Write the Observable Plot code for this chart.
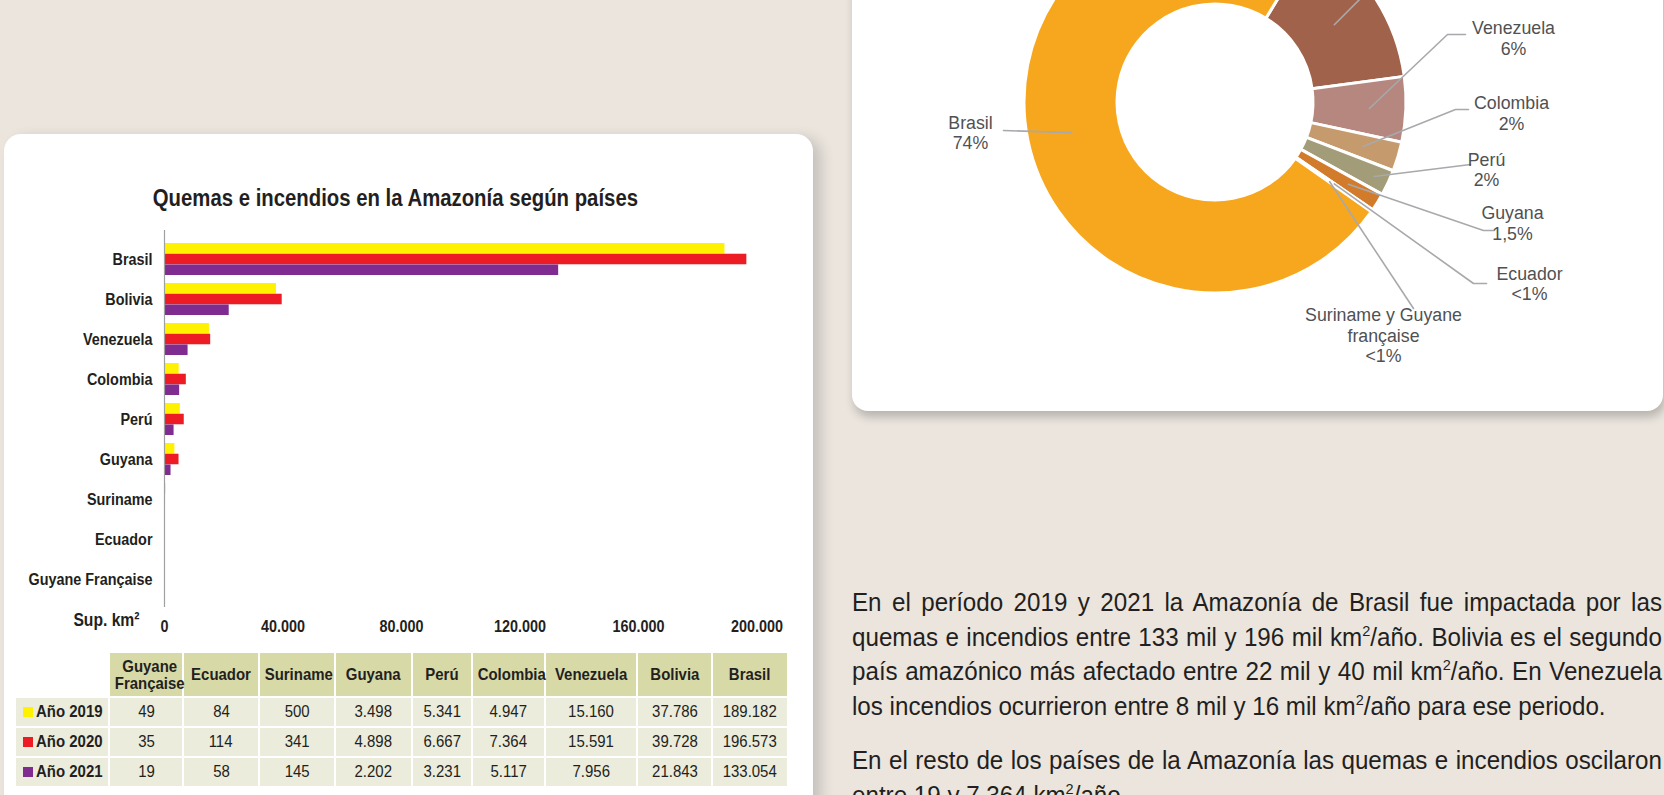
<!DOCTYPE html>
<html><head><meta charset="utf-8">
<script src="https://cdn.jsdelivr.net/npm/d3@7"></script>
<script src="https://cdn.jsdelivr.net/npm/@observablehq/plot@0.6"></script>
<style>
html,body{margin:0;padding:0;}
body{width:1664px;height:795px;overflow:hidden;background:#ebe5de;position:relative;
  font-family:"Liberation Sans",Arial,sans-serif;color:#231f20;}
.card{position:absolute;background:#fff;}
#leftCard{left:4px;top:134px;width:809px;height:720px;border-radius:17px;box-shadow:8px 4px 14px rgba(0,0,0,0.16);}
#rightCard{left:852px;top:-40px;width:811px;height:451px;border-radius:16px;box-shadow:2px 6px 10px rgba(0,0,0,0.22);}
#title{position:absolute;left:0;width:790px;top:184px;text-align:center;font-weight:bold;font-size:23px;line-height:28px;white-space:nowrap;}
#title span{display:inline-block;transform-origin:50% 50%;}
#bars{position:absolute;left:0;top:200px;}
#donut{position:absolute;left:852px;top:0;}
#tbl{position:absolute;left:14px;top:651px;border-collapse:separate;border-spacing:2px;table-layout:fixed;width:775px;font-size:17px;}
#tbl td,#tbl th{padding:0;text-align:center;vertical-align:middle;overflow:visible;white-space:nowrap;}
#tbl th{background:#d7d9a7;font-weight:bold;height:43px;line-height:17px;}
#tbl th.blank{background:transparent;}
#tbl td{background:#ebecdb;height:28px;}
#tbl td.lab{text-align:left;padding-left:7px;font-weight:bold;}
#tbl .t{display:inline-block;transform-origin:50% 50%;}
#tbl td.lab .t{transform-origin:0 50%;}
.sq{display:inline-block;width:10px;height:10px;margin-right:3px;vertical-align:0px;}
.para{position:absolute;left:852px;font-size:25px;line-height:34.5px;transform-origin:0 0;}
.para div{white-space:nowrap;}
.para div.j{text-align:justify;text-align-last:justify;}
sup{font-size:60%;line-height:0;vertical-align:0.65em;}
</style></head>
<body>
<div class="card" id="leftCard"></div>
<div class="card" id="rightCard"></div>
<div id="title"><span>Quemas e incendios en la Amazonía según países</span></div>
<div id="bars"></div>
<table id="tbl"></table>
<div id="donut"></div>
<div class="para" id="p1" style="top:585px">
  <div class="j">En el período 2019 y 2021 la Amazonía de Brasil fue impactada por las</div>
  <div class="j">quemas e incendios entre 133 mil y 196 mil km<sup>2</sup>/año. Bolivia es el segundo</div>
  <div class="j">país amazónico más afectado entre 22 mil y 40 mil km<sup>2</sup>/año. En Venezuela</div>
  <div>los incendios ocurrieron entre 8 mil y 16 mil km<sup>2</sup>/año para ese periodo.</div>
</div>
<div class="para" id="p2" style="top:743px">
  <div class="j">En el resto de los países de la Amazonía las quemas e incendios oscilaron</div>
  <div>entre 19 y 7.364 km<sup>2</sup>/año.</div>
</div>
<script>
// ---------- data ----------
const countries = ["Brasil","Bolivia","Venezuela","Colombia","Perú","Guyana","Suriname","Ecuador","Guyane Française"];
const years = ["Año 2019","Año 2020","Año 2021"];
const v2019 = [189182,37786,15160,4947,5341,3498,500,84,49];
const v2020 = [196573,39728,15591,7364,6667,4898,341,114,35];
const v2021 = [133054,21843,7956,5117,3231,2202,145,58,19];
const yearColors = ["#fff200","#ed1c24","#7f2b8f"];
const xTicks = [0,40000,80000,120000,160000,200000];
const axisLabel = "Sup. km²";

const pieNames = ["Bolivia","Venezuela","Colombia","Perú","Guyana","Ecuador","Suriname y Guyane\nfrançaise","Brasil"];
const pieParts = [["Bolivia"],["Venezuela"],["Colombia"],["Perú"],["Guyana"],["Ecuador"],["Suriname","Guyane Française"],["Brasil"]];
const pieLabels = ["14%","6%","2%","2%","1,5%","<1%","<1%","74%"];
const pieColors = ["#a0624b","#b5877f","#c59b6d","#a39c78","#d17b2b","#b9a57c","#9c7a5a","#f7a71d"];

// ---------- layout (not data) ----------
const FONT = '"Liberation Sans",Arial,sans-serif';
const colWidths = [92,72,74,74,75,58,71,90,73,74];
const donutCenter = [1215,102], innerR = 98, outerR = 191, startDeg = 31.3;
const labelLayout = [
  {r:142, tx:1425, ty:-55,   elbow:[1398,-40], end:[1410,-40]},
  {r:154, tx:1513, ty:37.7,  elbow:[1447,34],  end:[1465,34]},
  {r:154, tx:1511, ty:112.5, elbow:[1455,109], end:[1468,109]},
  {r:175, tx:1486, ty:169,   elbow:[1470,164], end:[1470,164]},
  {r:156, tx:1512, ty:222.5, elbow:[1483,230], end:[1494,230]},
  {r:144, tx:1529, ty:283,   elbow:[1473,283], end:[1486,283]},
  {r:139, tx:1383, ty:334.5, elbow:[1413,308], end:[1413,308]},
  {r:147, tx:970,  ty:132,   elbow:[1003,130], end:[1003,130]}
];

// condensed look: measure with canvas, then squeeze horizontally
const ctx = document.createElement("canvas").getContext("2d");
function tw(text, font) { ctx.font = font; return ctx.measureText(text).width; }
function squeezeSvgText(svg, s) {
  svg.querySelectorAll("text").forEach(t => {
    t.setAttribute("transform", (t.getAttribute("transform") || "") + ` scale(${s},1)`);
  });
}

// ---------- title ----------
{
  const sp = document.querySelector("#title span");
  const s = 486 / tw(sp.textContent, `bold 23px ${FONT}`);
  sp.style.transform = `scaleX(${s})`;
}

// ---------- paragraphs ----------
{
  const f = `25px ${FONT}`;
  const txt = el => el.textContent.replace(/\s+/g, " ").trim();
  const l4 = document.querySelectorAll("#p1 div")[3];
  const full = [...document.querySelectorAll(".para div.j")];
  let s = 763 / tw(txt(l4), f);
  full.forEach(d => { s = Math.min(s, 806 / tw(txt(d), f)); });
  document.querySelectorAll(".para").forEach(p => {
    p.style.width = (810 / s) + "px";
    p.style.transform = `scaleX(${s})`;
  });
}

// ---------- bar chart ----------
const es = d3.formatLocale({decimal:",", thousands:".", grouping:[3], currency:["",""]});
const fmt = es.format(",d");
const series = [v2019, v2020, v2021];
const barData = countries.flatMap((c,i) => years.map((y,k) => ({country:c, year:y, k, value:series[k][i]})));
const H = 370, pad = 0.2;
const bw = H / (countries.length - pad + 2*pad) * (1 - pad);
const bars = Plot.plot({
  width: 800, height: 444,
  marginLeft: 164, marginRight: 43.5, marginTop: 34, marginBottom: 40,
  style: {background:"transparent", fontFamily: FONT, fontSize:"17px", fontWeight:"bold", color:"#231f20", overflow:"visible"},
  x: {domain:[0,200000], label:null},
  y: {domain: countries, padding: pad, label:null},
  marks: [
    ...years.map((yr,k) => Plot.barX(barData.filter(d => d.k === k), {
      x:"value", y:"country", fill: yearColors[k],
      insetTop: k*bw/3, insetBottom: (2-k)*bw/3
    })),
    Plot.ruleX([0], {stroke:"#a0a0a0", strokeWidth:1.2, insetTop:-4, insetBottom:-3}),
    Plot.axisY({tickSize:0, tickPadding:12, label:null}),
    Plot.axisX({ticks:xTicks, tickFormat:fmt, tickSize:0, tickPadding:15, label:null}),
    Plot.text([axisLabel], {text: d => d, frameAnchor:"bottom-left", dx:-25, dy:21, textAnchor:"end", fontSize:18.5})
  ]
});
squeezeSvgText(bars, 124 / tw("Guyane Française", `bold 17px ${FONT}`));
document.getElementById("bars").appendChild(bars);

// ---------- table ----------
const tS = 0.88;
const tbl = d3.select("#tbl");
const cg = tbl.append("colgroup");
colWidths.forEach(w => cg.append("col").style("width", w + "px"));
const tableCountries = countries.slice().reverse();
const hr = tbl.append("tr");
hr.append("th").attr("class","blank");
tableCountries.forEach(c => hr.append("th").append("span").attr("class","t").style("transform",`scaleX(${tS})`)
  .html(c === "Guyane Française" ? "Guyane<br>Française" : c));
years.forEach((y,k) => {
  const tr = tbl.append("tr");
  const lab = tr.append("td").attr("class","lab");
  lab.append("span").attr("class","sq").style("background", yearColors[k]);
  lab.append("span").attr("class","t").style("transform",`scaleX(${tS})`).text(y);
  tableCountries.forEach(c => tr.append("td").append("span").attr("class","t").style("transform",`scaleX(${tS})`)
    .text(fmt(series[k][countries.indexOf(c)])));
});

// ---------- donut ----------
const totals = countries.map((c,i) => v2019[i] + v2020[i] + v2021[i]);
const pieValues = pieParts.map(parts => d3.sum(parts, p => totals[countries.indexOf(p)]));
const a0 = startDeg * Math.PI / 180;
const arcs = d3.pie().sort(null).startAngle(a0).endAngle(a0 + 2*Math.PI)(pieValues);
const arcGen = d3.arc().innerRadius(innerR).outerRadius(outerR);

function donutMark(index, scales) {
  const sx = scales && scales.x ? scales.x : (v => v - 852);
  const sy = scales && scales.y ? scales.y : (v => v);
  const g = d3.create("svg:g").attr("transform", `translate(${sx(donutCenter[0])},${sy(donutCenter[1])})`);
  g.selectAll("path").data(arcs).join("path")
    .attr("d", arcGen).attr("fill", d => pieColors[d.index])
    .attr("stroke", "#fff").attr("stroke-width", 3).attr("stroke-linejoin", "round");
  return g.node();
}
const leaders = [];
arcs.forEach((a,i) => {
  const L = labelLayout[i];
  const mid = (a.startAngle + a.endAngle) / 2;
  leaders.push({id:i, x: donutCenter[0] + L.r*Math.sin(mid), y: donutCenter[1] - L.r*Math.cos(mid)});
  leaders.push({id:i, x: L.elbow[0], y: L.elbow[1]});
  leaders.push({id:i, x: L.end[0], y: L.end[1]});
});
const labels = pieNames.map((n,i) => ({text: n + "\n" + pieLabels[i], x: labelLayout[i].tx, y: labelLayout[i].ty}))
  .filter(d => d.y > 0);

const donut = Plot.plot({
  width: 812, height: 411, margin: 0,
  style: {background:"transparent", fontFamily: FONT, overflow:"hidden"},
  x: {domain:[852,1664], range:[0,812], axis:null},
  y: {domain:[0,411], range:[0,411], axis:null},
  marks: [
    donutMark,
    Plot.line(leaders, {x:"x", y:"y", z:"id", stroke:"#a7a9ac", strokeWidth:1.6}),
    Plot.text(labels, {x:"x", y:"y", text:"text", fill:"#505153", fontSize:18.5, lineHeight:1.12, textAnchor:"middle"})
  ]
});
squeezeSvgText(donut, 83 / tw("Venezuela", `18.5px ${FONT}`));
document.getElementById("donut").appendChild(donut);
</script>
</body></html>
